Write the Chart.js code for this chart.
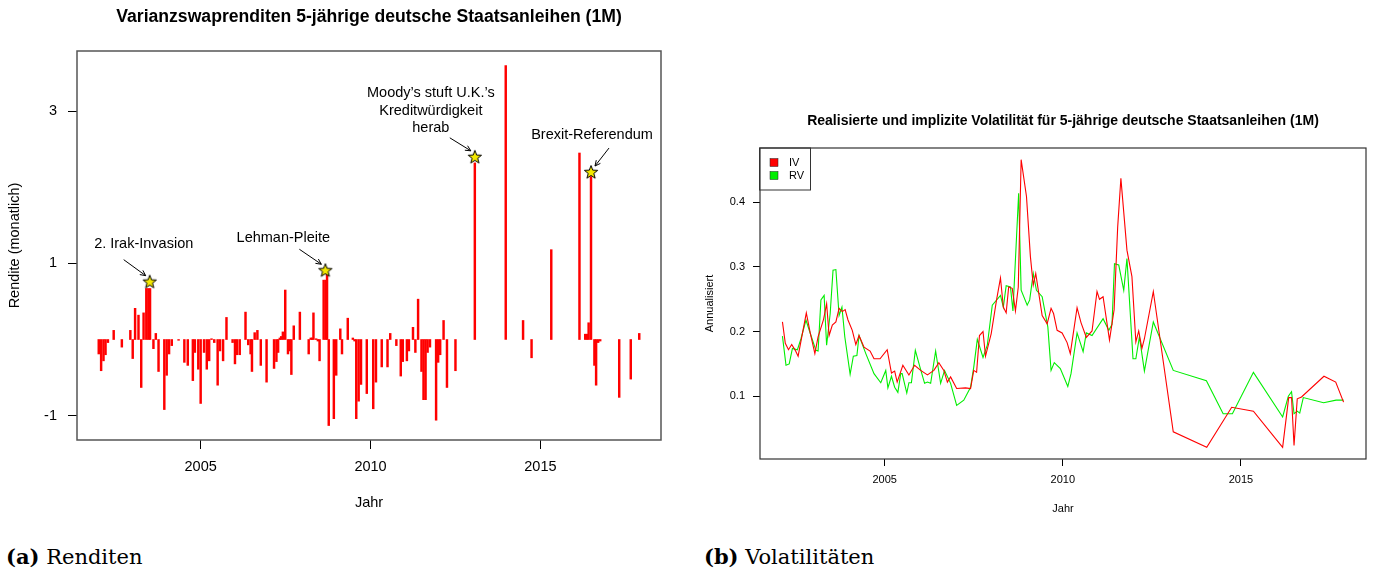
<!DOCTYPE html>
<html>
<head>
<meta charset="utf-8">
<script src="https://cdn.jsdelivr.net/npm/chart.js@4.4.1/dist/chart.umd.min.js"></script>
<style>
  body { margin: 0; background: #fff; width: 1373px; height: 576px; position: relative; overflow: hidden; }
  #wrapA { position: absolute; left: 0; top: 0; width: 690px; height: 530px; }
  #wrapB { position: absolute; left: 690px; top: 95px; width: 683px; height: 430px; }
  .caption { position: absolute; top: 544px; font-family: "DejaVu Serif", serif; font-size: 21px; color: #000; white-space: nowrap; }
</style>
</head>
<body>
<div id="wrapA"><canvas id="returns-chart" width="690" height="530"></canvas></div>
<div id="wrapB"><canvas id="vol-chart" width="683" height="430"></canvas></div>
<div class="caption" style="left:6px"><b>(a)</b> Renditen</div>
<div class="caption" style="left:704px"><b>(b)</b> Volatilitäten</div>
<script>
//#region Daten
// Varianzswaprenditen (Jahr als Dezimalzahl)
var returnYears = [
    2002.00, 2002.07, 2002.14, 2002.20, 2002.27, 2002.44, 2002.68, 2002.93, 2003.00, 2003.07,
    2003.17, 2003.25, 2003.32, 2003.40, 2003.46, 2003.51, 2003.61, 2003.68, 2003.76, 2003.93,
    2004.00, 2004.07, 2004.15, 2004.35, 2004.52, 2004.62, 2004.77, 2004.83, 2004.93, 2005.00,
    2005.10, 2005.18, 2005.25, 2005.32, 2005.40, 2005.50, 2005.57, 2005.66, 2005.76, 2005.94,
    2006.01, 2006.07, 2006.15, 2006.32, 2006.40, 2006.47, 2006.51, 2006.59, 2006.67, 2006.77,
    2006.94, 2007.16, 2007.23, 2007.28, 2007.33, 2007.37, 2007.42, 2007.49, 2007.57, 2007.62,
    2007.67, 2007.74, 2007.92, 2008.18, 2008.24, 2008.28, 2008.32, 2008.40, 2008.45, 2008.50,
    2008.62, 2008.68, 2008.72, 2008.77, 2008.92, 2008.99, 2009.11, 2009.16, 2009.33, 2009.48,
    2009.53, 2009.58, 2009.65, 2009.72, 2009.89, 2010.08, 2010.16, 2010.33, 2010.50, 2010.58,
    2010.76, 2010.89, 2010.95, 2011.07, 2011.13, 2011.25, 2011.32, 2011.40, 2011.50, 2011.56,
    2011.62, 2011.68, 2011.75, 2011.93, 2011.99, 2012.05, 2012.15, 2012.25, 2012.50, 2013.07,
    2013.98, 2014.49, 2014.74, 2015.32, 2016.15, 2016.32, 2016.37, 2016.42, 2016.49, 2016.59,
    2016.64, 2016.70, 2016.76, 2017.32, 2017.66, 2017.91
];
var returnValues = [
    -0.19, -0.41, -0.28, -0.20, -0.04, 0.12, -0.10, 0.12, -0.25, 0.41,
    0.32, -0.63, 0.35, 0.67, 0.67, 0.67, -0.12, 0.08, -0.42, -0.92,
    -0.47, -0.19, -0.08, -0.01, -0.30, -0.34, -0.54, -0.17, -0.39, -0.84,
    -0.17, -0.39, -0.28, 0.01, -0.04, -0.60, -0.15, -0.28, 0.29, -0.04,
    -0.32, -0.20, -0.20, 0.36, -0.07, -0.19, -0.42, 0.09, 0.12, -0.34,
    -0.56, -0.38, -0.29, -0.17, 0.02, 0.04, 0.10, 0.65, -0.19, -0.15,
    -0.46, 0.18, 0.36, -0.19, 0.02, 0.02, 0.35, 0.01, -0.02, -0.28,
    0.78, 0.78, 0.86, -1.13, -1.04, -0.47, 0.14, -0.19, 0.28, 0.02,
    -0.02, -1.04, -0.81, -0.59, -0.71, -0.91, -0.56, -0.36, -0.36, 0.08,
    -0.08, -0.48, -0.29, -0.28, -0.15, 0.16, -0.17, 0.53, -0.42, -0.79,
    -0.79, -0.17, -0.10, -1.06, -0.30, -0.20, 0.25, -0.63, -0.41, 2.32,
    3.60, 0.25, -0.24, 1.18, 2.45, 0.07, 0.07, 0.22, 2.14, -0.34,
    -0.60, -0.04, -0.02, -0.76, -0.52, 0.08
];

// Ereignisse (Sterne)
var eventYears = [2003.50, 2008.67, 2013.07, 2016.49];
var eventValues = [0.76, 0.91, 2.40, 2.20];
var eventLabels = [
    ["2. Irak-Invasion"],
    ["Lehman-Pleite"],
    ["Moody\u2019s stuft U.K.\u2019s", "Kreditwürdigkeit", "herab"],
    ["Brexit-Referendum"]
];

// Implizite Volatilität (IV)
var ivYears = [
    2002.13, 2002.21, 2002.30, 2002.39, 2002.49, 2002.57, 2002.69, 2002.80, 2002.91, 2003.04,
    2003.13, 2003.28, 2003.37, 2003.44, 2003.53, 2003.63, 2003.72, 2003.81, 2003.89, 2003.97,
    2004.09, 2004.19, 2004.28, 2004.42, 2004.59, 2004.70, 2004.87, 2005.07, 2005.19, 2005.28,
    2005.35, 2005.51, 2005.68, 2005.84, 2006.01, 2006.20, 2006.38, 2006.52, 2006.66, 2006.76,
    2006.85, 2007.02, 2007.27, 2007.41, 2007.50, 2007.58, 2007.66, 2007.76, 2007.83, 2007.99,
    2008.14, 2008.25, 2008.33, 2008.41, 2008.48, 2008.58, 2008.67, 2008.75, 2008.83, 2008.98,
    2009.09, 2009.17, 2009.24, 2009.42, 2009.56, 2009.67, 2009.74, 2009.84, 2009.98, 2010.12,
    2010.21, 2010.40, 2010.51, 2010.66, 2010.82, 2010.96, 2011.03, 2011.13, 2011.31, 2011.44,
    2011.54, 2011.63, 2011.80, 2011.94, 2012.05, 2012.13, 2012.22, 2012.29, 2012.54, 2013.10,
    2014.04, 2014.74, 2015.35, 2016.17, 2016.34, 2016.42, 2016.49, 2016.58, 2016.70, 2017.33,
    2017.66, 2017.88
];
var ivValues = [
    0.215, 0.182, 0.172, 0.180, 0.171, 0.162, 0.197, 0.229, 0.198, 0.166,
    0.192, 0.218, 0.243, 0.194, 0.210, 0.215, 0.236, 0.231, 0.234, 0.218,
    0.202, 0.180, 0.194, 0.176, 0.170, 0.158, 0.158, 0.172, 0.136, 0.139,
    0.122, 0.148, 0.133, 0.148, 0.140, 0.133, 0.140, 0.152, 0.140, 0.122,
    0.130, 0.112, 0.113, 0.112, 0.140, 0.137, 0.194, 0.200, 0.162, 0.197,
    0.249, 0.283, 0.238, 0.229, 0.269, 0.267, 0.232, 0.269, 0.466, 0.409,
    0.316, 0.272, 0.290, 0.225, 0.212, 0.236, 0.228, 0.202, 0.198, 0.183,
    0.166, 0.237, 0.214, 0.191, 0.201, 0.262, 0.250, 0.254, 0.187, 0.234,
    0.362, 0.437, 0.326, 0.285, 0.184, 0.201, 0.174, 0.189, 0.262, 0.045,
    0.021, 0.083, 0.077, 0.021, 0.098, 0.098, 0.024, 0.096, 0.099, 0.131,
    0.122, 0.091
];

// Realisierte Volatilität (RV)
var rvYears = [
    2002.13, 2002.23, 2002.32, 2002.41, 2002.55, 2002.65, 2002.79, 2002.93, 2003.07, 2003.13,
    2003.21, 2003.30, 2003.37, 2003.47, 2003.55, 2003.63, 2003.72, 2003.80, 2003.88, 2004.03,
    2004.12, 2004.22, 2004.28, 2004.47, 2004.70, 2004.89, 2005.03, 2005.09, 2005.19, 2005.28,
    2005.37, 2005.45, 2005.49, 2005.62, 2005.68, 2005.75, 2005.86, 2005.99, 2006.12, 2006.20,
    2006.29, 2006.43, 2006.57, 2006.68, 2006.85, 2007.02, 2007.22, 2007.41, 2007.50, 2007.60,
    2007.76, 2007.88, 2008.02, 2008.25, 2008.33, 2008.41, 2008.53, 2008.60, 2008.76, 2008.83,
    2009.00, 2009.07, 2009.17, 2009.26, 2009.42, 2009.58, 2009.67, 2009.76, 2009.93, 2010.14,
    2010.23, 2010.40, 2010.57, 2010.66, 2010.82, 2011.13, 2011.29, 2011.38, 2011.45, 2011.57,
    2011.71, 2011.80, 2011.97, 2012.05, 2012.15, 2012.29, 2012.54, 2013.10, 2014.03, 2014.50,
    2014.76, 2015.35, 2016.17, 2016.33, 2016.42, 2016.49, 2016.58, 2016.65, 2016.75, 2017.32,
    2017.67, 2017.88
];
var rvValues = [
    0.193, 0.148, 0.150, 0.174, 0.172, 0.189, 0.218, 0.194, 0.171, 0.170,
    0.249, 0.256, 0.179, 0.228, 0.295, 0.296, 0.225, 0.238, 0.192, 0.134,
    0.162, 0.163, 0.194, 0.166, 0.135, 0.121, 0.140, 0.113, 0.131, 0.114,
    0.106, 0.135, 0.135, 0.105, 0.121, 0.121, 0.171, 0.145, 0.120, 0.122,
    0.120, 0.170, 0.120, 0.140, 0.120, 0.086, 0.094, 0.114, 0.145, 0.188,
    0.160, 0.179, 0.241, 0.256, 0.238, 0.271, 0.269, 0.232, 0.414, 0.264,
    0.241, 0.249, 0.290, 0.264, 0.254, 0.207, 0.140, 0.152, 0.143, 0.115,
    0.135, 0.198, 0.169, 0.198, 0.194, 0.220, 0.202, 0.211, 0.305, 0.303,
    0.264, 0.313, 0.158, 0.158, 0.192, 0.139, 0.215, 0.140, 0.124, 0.073,
    0.073, 0.137, 0.068, 0.100, 0.107, 0.073, 0.077, 0.074, 0.098, 0.090,
    0.094, 0.094
];

// Achsenbeschriftungen
var yearTicks = [2005, 2010, 2015];
var returnTicks = [-1, 1, 3];
var volTicks = [0.1, 0.2, 0.3, 0.4];
//#endregion

Chart.defaults.font.family = '"Liberation Sans", Arial, sans-serif';
Chart.defaults.color = '#000';

function toPoints(xs, ys) {
    return xs.map(function (x, i) { return { x: x, y: ys[i] }; });
}

function fixedTicks(values) {
    return function (scale) {
        scale.ticks = values.map(function (v) { return { value: v }; });
    };
}

// Stern als Punktsymbol
function makeStar(size) {
    var c = document.createElement('canvas');
    c.width = size; c.height = size;
    var g = c.getContext('2d');
    var ro = size / 2 - 1, ri = ro * 0.42;
    g.beginPath();
    for (var k = 0; k < 10; k++) {
        var r = k % 2 ? ri : ro;
        var a = -Math.PI / 2 + k * Math.PI / 5;
        g.lineTo(size / 2 + r * Math.cos(a), size / 2 + 0.5 + r * Math.sin(a));
    }
    g.closePath();
    g.fillStyle = '#f4e900';
    g.fill();
    g.lineWidth = 1;
    g.strokeStyle = '#000';
    g.stroke();
    return c;
}

// Rahmen + Titel über dem Plotbereich
var frameTitle = {
    id: 'frameTitle',
    afterDraw: function (chart, args, opts) {
        var ctx = chart.ctx, a = chart.chartArea;
        ctx.save();
        ctx.strokeStyle = opts.frameColor;
        ctx.lineWidth = opts.frameWidth;
        ctx.strokeRect(a.left, a.top, a.right - a.left, a.bottom - a.top);
        ctx.fillStyle = '#000';
        ctx.font = opts.font;
        ctx.textAlign = 'center';
        ctx.textBaseline = 'middle';
        ctx.fillText(opts.text, (a.left + a.right) / 2, opts.y);
        ctx.restore();
    }
};

// Beschriftungen und Pfeile zu den Ereignissen
var noteOffsets = [
    { dx: -6, dy: -38, ax: [-26, -22, -4, -6] },
    { dx: -42, dy: -32, ax: [-26, -21, -4, -6] },
    { dx: -44, dy: -64, ax: [-25, -19, -4, -6] },
    { dx: 1, dy: -37, ax: [18, -24, 4, -6] }
];
var eventNotes = {
    id: 'eventNotes',
    afterDatasetsDraw: function (chart) {
        var ctx = chart.ctx;
        var xs = chart.scales.x, ys = chart.scales.y;
        ctx.save();
        ctx.font = '14.5px "Liberation Sans", Arial, sans-serif';
        ctx.textAlign = 'center';
        ctx.textBaseline = 'middle';
        ctx.fillStyle = '#000';
        ctx.strokeStyle = '#000';
        ctx.lineWidth = 1;
        eventYears.forEach(function (yr, i) {
            var px = xs.getPixelForValue(yr), py = ys.getPixelForValue(eventValues[i]);
            var o = noteOffsets[i];
            eventLabels[i].forEach(function (line, k) {
                ctx.fillText(line, px + o.dx, py + o.dy + k * 17.8);
            });
            var x0 = px + o.ax[0], y0 = py + o.ax[1], x1 = px + o.ax[2], y1 = py + o.ax[3];
            var ang = Math.atan2(y1 - y0, x1 - x0), h = 6;
            ctx.beginPath();
            ctx.moveTo(x0, y0);
            ctx.lineTo(x1, y1);
            ctx.moveTo(x1 - h * Math.cos(ang - 0.45), y1 - h * Math.sin(ang - 0.45));
            ctx.lineTo(x1, y1);
            ctx.lineTo(x1 - h * Math.cos(ang + 0.45), y1 - h * Math.sin(ang + 0.45));
            ctx.stroke();
        });
        ctx.restore();
    }
};

// Legende oben links im Plotbereich
var volLegend = {
    id: 'volLegend',
    afterDraw: function (chart) {
        var ctx = chart.ctx, a = chart.chartArea;
        ctx.save();
        ctx.strokeStyle = '#333';
        ctx.lineWidth = 1;
        ctx.strokeRect(a.left - 0.5, a.top, 51, 42);
        ctx.font = '11px "Liberation Sans", Arial, sans-serif';
        ctx.textBaseline = 'middle';
        chart.data.datasets.forEach(function (ds, i) {
            var y = a.top + 14.5 + i * 13;
            ctx.fillStyle = ds.borderColor;
            ctx.fillRect(a.left + 10, y - 4, 8, 8);
            ctx.strokeStyle = '#222';
            ctx.lineWidth = 0.5;
            ctx.strokeRect(a.left + 10, y - 4, 8, 8);
            ctx.fillStyle = '#000';
            ctx.fillText(ds.label, a.left + 29, y);
        });
        ctx.restore();
    }
};

//#region Grafik (a) Renditen
var returnsCtx = document.querySelector('#returns-chart').getContext('2d');
var returnsChart = new Chart(returnsCtx, {
    type: 'bar',
    data: {
        datasets: [{
            type: 'scatter',
            label: 'Ereignisse',
            data: toPoints(eventYears, eventValues),
            pointStyle: makeStar(16),
            pointRadius: 8,
            order: 0
        }, {
            label: 'Rendite',
            data: toPoints(returnYears, returnValues),
            backgroundColor: '#ff0000',
            borderWidth: 0,
            barThickness: 1.8,
            order: 1
        }]
    },
    options: {
        responsive: false,
        animation: false,
        layout: { padding: { left: 0, right: 29, top: 51, bottom: 16 } },
        plugins: {
            legend: { display: false },
            tooltip: { enabled: false },
            frameTitle: {
                text: 'Varianzswaprenditen 5-jährige deutsche Staatsanleihen (1M)',
                y: 17,
                font: 'bold 17.6px "Liberation Sans", Arial, sans-serif',
                frameColor: '#555',
                frameWidth: 1.5
            }
        },
        scales: {
            x: {
                type: 'linear',
                min: 2001.36,
                max: 2018.55,
                offset: false,
                afterBuildTicks: fixedTicks(yearTicks),
                afterFit: function (scale) { scale.height = 74; },
                grid: { offset: false, drawOnChartArea: false, tickLength: 9, tickColor: '#000' },
                border: { display: false },
                ticks: { padding: 9, font: { size: 14.5 }, callback: function (v) { return String(v); } },
                title: { display: true, text: 'Jahr', font: { size: 14.5 }, padding: { top: 0, bottom: 2 } }
            },
            y: {
                min: -1.32,
                max: 3.79,
                afterBuildTicks: fixedTicks(returnTicks),
                afterFit: function (scale) { scale.width = 77; },
                grid: { drawOnChartArea: false, tickLength: 9, tickColor: '#000' },
                border: { display: false },
                ticks: { padding: 11, font: { size: 14.5 }, callback: function (v) { return String(v); } },
                title: { display: true, text: 'Rendite (monatlich)', font: { size: 14.5 }, padding: { top: 6, bottom: 0 } }
            }
        }
    },
    plugins: [frameTitle, eventNotes]
});
//#endregion

//#region Grafik (b) Volatilitäten
var volCtx = document.querySelector('#vol-chart').getContext('2d');
var volChart = new Chart(volCtx, {
    type: 'line',
    data: {
        datasets: [{
            label: 'IV',
            data: toPoints(ivYears, ivValues),
            borderColor: '#ff0000',
            borderWidth: 1.1,
            pointRadius: 0,
            tension: 0,
            fill: false
        }, {
            label: 'RV',
            data: toPoints(rvYears, rvValues),
            borderColor: '#00ee00',
            borderWidth: 1.1,
            pointRadius: 0,
            tension: 0,
            fill: false
        }]
    },
    options: {
        responsive: false,
        animation: false,
        layout: { padding: { left: 0, right: 7, top: 53, bottom: 7 } },
        plugins: {
            legend: { display: false },
            tooltip: { enabled: false },
            frameTitle: {
                text: 'Realisierte und implizite Volatilität für 5-jährige deutsche Staatsanleihen (1M)',
                y: 26,
                font: 'bold 14px "Liberation Sans", Arial, sans-serif',
                frameColor: '#333',
                frameWidth: 1.2
            }
        },
        scales: {
            x: {
                type: 'linear',
                min: 2001.50,
                max: 2018.51,
                afterBuildTicks: fixedTicks(yearTicks),
                afterFit: function (scale) { scale.height = 59; },
                grid: { drawOnChartArea: false, tickLength: 7, tickColor: '#000' },
                border: { display: false },
                ticks: { padding: 7, font: { size: 11 }, callback: function (v) { return String(v); } },
                title: { display: true, text: 'Jahr', font: { size: 11 }, padding: { top: 0, bottom: 2 } }
            },
            y: {
                min: 0.003,
                max: 0.484,
                afterBuildTicks: fixedTicks(volTicks),
                afterFit: function (scale) { scale.width = 70; },
                grid: { drawOnChartArea: false, tickLength: 7, tickColor: '#000' },
                border: { display: false },
                ticks: { padding: 8, font: { size: 11 }, callback: function (v) { return String(v); } },
                title: { display: true, text: 'Annualisiert', font: { size: 11 }, padding: { top: 13, bottom: 0 } }
            }
        }
    },
    plugins: [frameTitle, volLegend]
});
//#endregion
</script>
</body>
</html>
